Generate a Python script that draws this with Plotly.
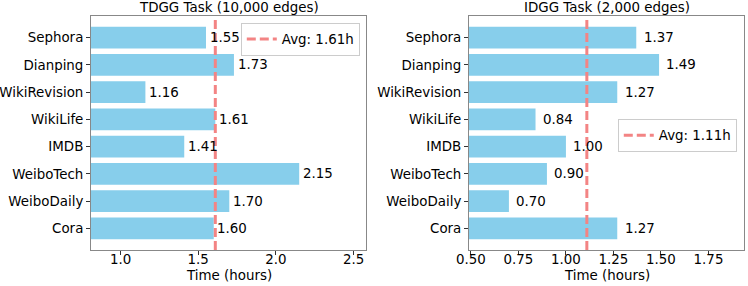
import plotly.graph_objects as go

categories = ["Sephora", "Dianping", "WikiRevision", "WikiLife", "IMDB", "WeiboTech", "WeiboDaily", "Cora"]
tdgg_hours = [1.55, 1.73, 1.16, 1.61, 1.41, 2.15, 1.70, 1.60]
idgg_hours = [1.37, 1.49, 1.27, 0.84, 1.00, 0.90, 0.70, 1.27]
avg_hours = [1.61, 1.11]
titles = ["TDGG Task (10,000 edges)", "IDGG Task (2,000 edges)"]
x_title = "Time (hours)"
left_ticks = [1.0, 1.5, 2.0, 2.5]
right_ticks = [0.50, 0.75, 1.00, 1.25, 1.50, 1.75]

BAR = "#87CEEB"
AVG = "#F38484"
FONT = "DejaVu Sans"
FS = 13.4

fig = go.Figure()

panels = [
    dict(vals=tdgg_hours, avg=avg_hours[0], title=titles[0], xa="x", ya="y",
         dom=[0.1217, 0.4893], rng=[0.81, 2.58], ticks=left_ticks, off=0.01,
         legend="legend", lx=0.481, ly=0.92),
    dict(vals=idgg_hours, avg=avg_hours[1], title=titles[1], xa="x2", ya="y2",
         dom=[0.627, 0.9947], rng=[0.49, 1.937], ticks=right_ticks, off=0.028,
         legend="legend2", lx=0.985, ly=0.584),
]

ydom = [0.1259, 0.944]
layout = dict(
    width=748, height=286, margin=dict(l=0, r=0, t=0, b=0),
    paper_bgcolor="white", plot_bgcolor="white",
    font=dict(family=FONT, size=FS, color="black"),
    showlegend=True, bargap=0.2,
)
annotations = []
shapes = []

for i, p in enumerate(panels):
    n = "" if i == 0 else "2"
    fig.add_trace(go.Bar(
        x=p["vals"], y=categories, orientation="h", marker=dict(color=BAR, line=dict(width=0)),
        width=0.8, xaxis=p["xa"], yaxis=p["ya"], showlegend=False, hoverinfo="skip",
    ))
    fig.add_trace(go.Scatter(
        x=[None], y=[None], mode="lines", xaxis=p["xa"], yaxis=p["ya"],
        line=dict(color=AVG, width=3, dash="9px,4px"),
        name=f"Avg: {p['avg']:.2f}h", legend=p["legend"], showlegend=True,
    ))
    shapes.append(dict(type="line", xref=p["xa"], yref=f"{p['ya']} domain",
                       x0=p["avg"], x1=p["avg"], y0=0, y1=1,
                       line=dict(color=AVG, width=3, dash="9px,4px"), layer="above"))
    for c, v in zip(categories, p["vals"]):
        annotations.append(dict(x=v + p["off"], y=c, xref=p["xa"], yref=p["ya"],
                                text=f"{v:.2f}", showarrow=False, xanchor="left",
                                yanchor="middle", font=dict(size=FS, color="black")))
    cx = (p["dom"][0] + p["dom"][1]) / 2
    annotations.append(dict(x=cx, y=ydom[1], xref="paper", yref="paper",
                            text=p["title"], showarrow=False, xanchor="center", yanchor="bottom",
                            yshift=-1, font=dict(size=FS)))
    annotations.append(dict(x=cx, y=11 / 286, xref="paper", yref="paper",
                            text=x_title, showarrow=False, xanchor="center", yanchor="middle",
                            font=dict(size=FS)))
    layout[f"xaxis{n}"] = dict(
        domain=p["dom"], range=p["rng"], anchor=p["ya"], tickmode="array",
        tickvals=p["ticks"], ticktext=[(f"{t:.1f}" if i == 0 else f"{t:.2f}") for t in p["ticks"]],
        ticks="outside", ticklen=4, tickcolor="#333", showgrid=False, zeroline=False,
        showline=True, linecolor="#888", linewidth=1, mirror=True,
        tickfont=dict(size=FS), automargin=False, ticklabelstandoff=-7,
    )
    layout[f"yaxis{n}"] = dict(
        domain=ydom, anchor=p["xa"], type="category", categoryorder="array",
        categoryarray=categories, range=[7.79, -0.79],
        ticks="outside", ticklen=4, tickcolor="#333", showgrid=False, zeroline=False,
        showline=True, linecolor="#888", linewidth=1, mirror=True, tickfont=dict(size=FS),
        automargin=False,
    )
    layout[p["legend"]] = dict(
        x=p["lx"], y=p["ly"], xanchor="right", yanchor="top",
        bgcolor="rgba(255,255,255,0.8)", bordercolor="#ccc", borderwidth=1,
        font=dict(size=FS), itemwidth=30,
    )

layout["annotations"] = annotations
layout["shapes"] = shapes
fig.update_layout(**layout)
fig.write_html("out.html", config={"displayModeBar": False},
               post_script="document.body.style.margin='0';document.body.style.overflow='hidden';")
